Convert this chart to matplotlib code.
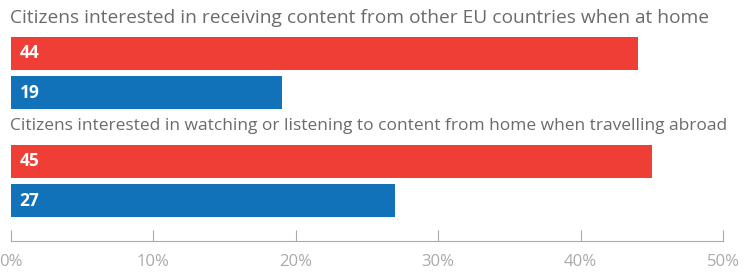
import matplotlib
matplotlib.use("Agg")
import matplotlib.pyplot as plt

# data
groups = ["Citizens interested in receiving content from other EU countries when at home",
          "Citizens interested in watching or listening to content from home when travelling abroad"]
red_vals = [44, 45]
blue_vals = [19, 27]
ticks = [0, 10, 20, 30, 40, 50]
title_w = [696, 711]  # title widths in the reference, px

red = "#ee3e36"
blue = "#1172ba"

plt.rcParams['font.family'] = ['Open Sans', 'DejaVu Sans']

fig = plt.figure(figsize=(7.51, 2.77), dpi=100)
# axes in pixel-like units: top of figure = 0, axis line = 241
ax = fig.add_axes([11/751, 36/277, 712/751, 241/277])
ax.set_xlim(0, 50)
ax.set_ylim(241, 0)
renderer = fig.canvas.get_renderer()

bh = 33
for i, g in enumerate(groups):
    y0 = 37 + 108 * i
    yr = y0 + bh / 2
    yb = yr + 39
    ax.barh(yr, red_vals[i], height=bh, color=red)
    ax.barh(yb, blue_vals[i], height=bh, color=blue)
    ax.text(0.6, yr, str(red_vals[i]), color="white", fontweight="bold",
            fontsize=12.5, va="center", ha="left")
    ax.text(0.6, yb, str(blue_vals[i]), color="white", fontweight="bold",
            fontsize=12.5, va="center", ha="left")
    t = ax.text(-0.1, y0 - 19, g, color="#6b6b6b", fontsize=13, va="center", ha="left")
    w = t.get_window_extent(renderer).width
    t.set_fontsize(13 * title_w[i] / w)

for s in ["top", "left", "right"]:
    ax.spines[s].set_visible(False)
ax.spines["bottom"].set_color("#aaaaaa")
ax.set_yticks([])
ax.set_xticks(ticks)
ax.set_xticklabels([f"{t}%" for t in ticks])
ax.tick_params(axis="x", direction="in", length=8, color="#aaaaaa",
               labelcolor="#aaaaaa", labelsize=12, pad=9)

fig.savefig("out.png", dpi=100)
